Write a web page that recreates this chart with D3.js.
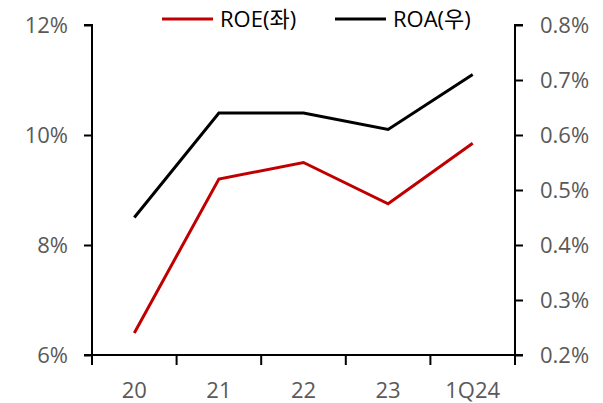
<!DOCTYPE html>
<html>
<head>
<meta charset="utf-8">
<script src="https://cdn.jsdelivr.net/npm/d3@7"></script>
<style>
  html, body { margin: 0; padding: 0; background: #fff; }
  svg { display: block; }
  .tick text { font-family: "Open Sans", "Noto Sans CJK KR", sans-serif; fill: #595959; }
</style>
</head>
<body>
<svg id="chart" width="603" height="403"></svg>
<script>
// Categories and series (ROE on the left axis, ROA on the right axis, in %)
const categories = ["20", "21", "22", "23", "1Q24"];
const roeValues = [6.4, 9.2, 9.5, 8.75, 9.85];
const roaValues = [0.45, 0.64, 0.64, 0.61, 0.71];
const leftTicks = [6, 8, 10, 12];
const rightTicks = [0.2, 0.3, 0.4, 0.5, 0.6, 0.7, 0.8];
const seriesNames = ["ROE(좌)", "ROA(우)"];

const svg = d3.select("#chart");
const margin = { left: 92, right: 88, top: 25, bottom: 48 };
const W = 603, H = 403;
const x0 = margin.left, x1 = W - margin.right;
const y0 = H - margin.bottom, y1 = margin.top;

const x = d3.scaleBand().domain(categories).range([x0, x1]);
const yL = d3.scaleLinear().domain([6, 12]).range([y0, y1]);
const yR = d3.scaleLinear().domain([0.2, 0.8]).range([y0, y1]);

const fontSize = "22px";

// Left axis
const gL = svg.append("g").attr("transform", `translate(${x0},0)`)
  .call(d3.axisLeft(yL).tickValues(leftTicks).tickSize(8).tickPadding(16)
    .tickFormat(d => d + "%"));
// Right axis
const gR = svg.append("g").attr("transform", `translate(${x1},0)`)
  .call(d3.axisRight(yR).tickValues(rightTicks).tickSize(8).tickPadding(17)
    .tickFormat(d => d.toFixed(1) + "%"));
// Bottom axis with ticks on band boundaries
const gB = svg.append("g").attr("transform", `translate(0,${y0})`)
  .call(d3.axisBottom(x).tickSize(0).tickPadding(27));

[gL, gR, gB].forEach(g => {
  g.select(".domain").attr("stroke", "#000").attr("stroke-width", 2);
  g.selectAll(".tick line").attr("stroke", "#000").attr("stroke-width", 2);
  g.selectAll(".tick text").style("font-size", fontSize);
});
gL.select(".domain").attr("d", `M-8,${y1}H0V${y0}H-8`);
gR.select(".domain").attr("d", `M8,${y1}H0V${y0}H8`);
gB.select(".domain").attr("d", `M${x0},0H${x1}`);

// Category boundary ticks on the x axis
const bounds = categories.map(c => x(c)).concat([x1]);
gB.selectAll(".bound").data(bounds).enter().append("line")
  .attr("x1", d => d).attr("x2", d => d)
  .attr("y1", 0).attr("y2", 10)
  .attr("stroke", "#000").attr("stroke-width", 2);

// Lines
const cx = c => x(c) + x.bandwidth() / 2;
const roaLine = d3.line().x((d, i) => cx(categories[i])).y(d => yR(d));
const roeLine = d3.line().x((d, i) => cx(categories[i])).y(d => yL(d));

svg.append("path").datum(roaValues).attr("d", roaLine)
  .attr("fill", "none").attr("stroke", "#000").attr("stroke-width", 3);
svg.append("path").datum(roeValues).attr("d", roeLine)
  .attr("fill", "none").attr("stroke", "#C00000").attr("stroke-width", 3);

// Legend
const legend = [
  { name: seriesNames[0], color: "#C00000", x: 162 },
  { name: seriesNames[1], color: "#000", x: 335 }
];
const lg = svg.append("g");
legend.forEach(d => {
  lg.append("line").attr("x1", d.x).attr("x2", d.x + 51)
    .attr("y1", 19).attr("y2", 19)
    .attr("stroke", d.color).attr("stroke-width", 3);
  lg.append("text").attr("x", d.x + 58).attr("y", 27)
    .attr("font-family", "\"Open Sans\", \"Noto Sans CJK KR\", sans-serif")
    .attr("font-size", fontSize).attr("fill", "#000")
    .text(d.name);
});
</script>
</body>
</html>
